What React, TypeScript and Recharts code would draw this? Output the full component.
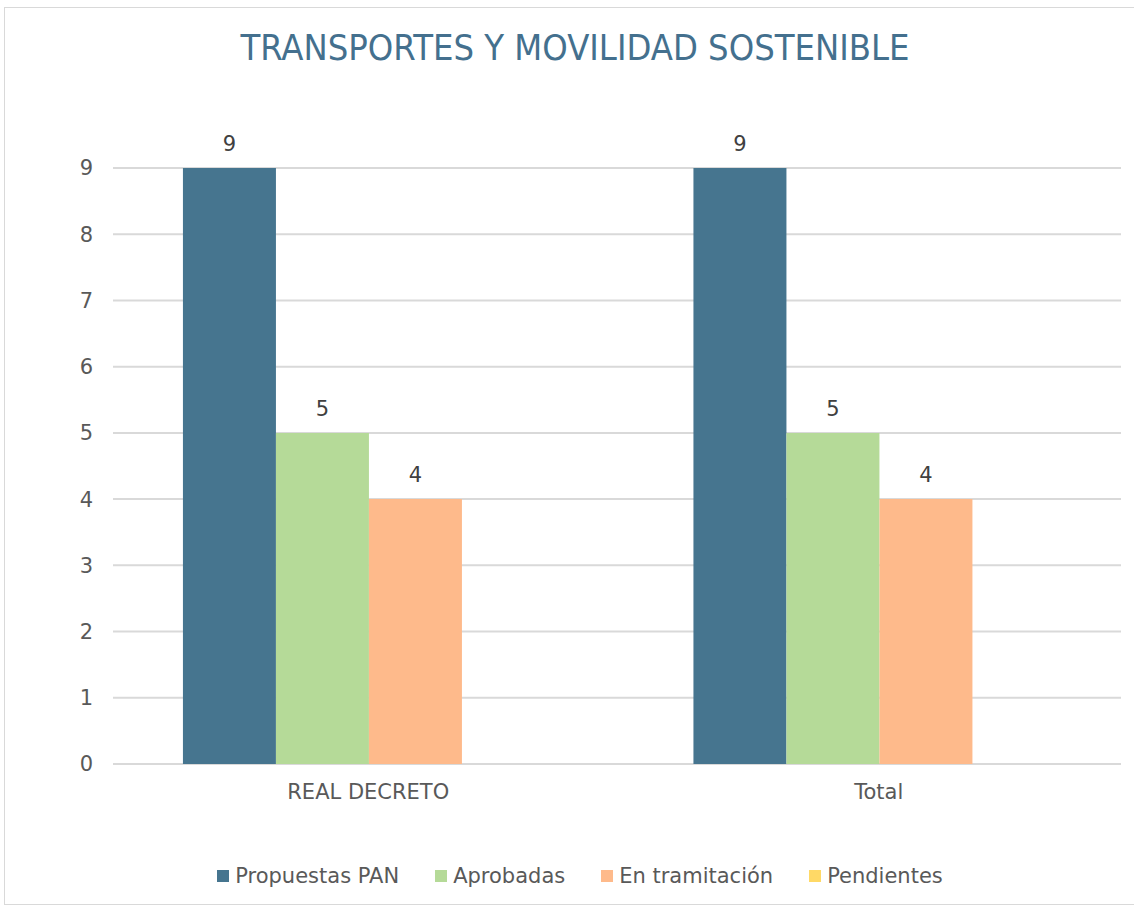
import React from 'react';
import {
  BarChart,
  Bar,
  XAxis,
  YAxis,
  CartesianGrid,
  Legend,
  LabelList,
} from 'recharts';

const categories = ['REAL DECRETO', 'Total'];
const propuestas = [9, 9];
const aprobadas = [5, 5];
const enTramitacion = [4, 4];
const pendientes = [0, 0];
const yTicks = [0, 1, 2, 3, 4, 5, 6, 7, 8, 9];

const series = [
  { key: 'propuestas', name: 'Propuestas PAN', color: '#46758F' },
  { key: 'aprobadas', name: 'Aprobadas', color: '#B5DA98' },
  { key: 'enTramitacion', name: 'En tramitación', color: '#FEBA8B' },
  { key: 'pendientes', name: 'Pendientes', color: '#FFD966' },
];

const data = categories.map((name, i) => ({
  name,
  propuestas: propuestas[i],
  aprobadas: aprobadas[i],
  enTramitacion: enTramitacion[i],
  pendientes: pendientes[i],
}));

const FONT = '"DejaVu Sans", sans-serif';

const LegendContent = () => (
  <div
    style={{
      height: 84,
      display: 'flex',
      justifyContent: 'center',
      alignItems: 'flex-end',
      paddingBottom: 20,
      paddingLeft: 26,
      boxSizing: 'border-box',
      fontFamily: FONT,
      fontSize: 21,
      color: '#595959',
    }}
  >
    {series.map((s) => (
      <span key={s.key} style={{ display: 'flex', alignItems: 'center', margin: '0 18px' }}>
        <span style={{ width: 12, height: 12, background: s.color, marginRight: 6 }} />
        {s.name}
      </span>
    ))}
  </div>
);

const App: React.FC = () => {
  return (
    <div style={{ position: 'absolute', left: 0, top: 0, width: 1134, height: 908, background: '#fff' }}>
      <div
        style={{
          position: 'absolute',
          left: 4,
          top: 7,
          width: 1140,
          height: 898,
          border: '1px solid #d9d9d9',
          boxSizing: 'border-box',
        }}
      />
      <div
        style={{
          position: 'absolute',
          left: 8,
          top: 27,
          width: 1134,
          textAlign: 'center',
          fontFamily: '"Liberation Sans Narrow", "DejaVu Sans Condensed", sans-serif',
          fontSize: 36,
          color: '#44708E',
        }}
      >
        TRANSPORTES Y MOVILIDAD SOSTENIBLE
      </div>
      <div style={{ position: 'absolute', left: 0, top: 0 }}>
        <BarChart
          width={1134}
          height={908}
          data={data}
          margin={{ top: 168, right: 0, bottom: 0, left: 0 }}
          barCategoryGap="13.7%"
          barGap={0}
        >
          <CartesianGrid vertical={false} stroke="#d9d9d9" strokeWidth={2} width={1008} />
          <XAxis
            dataKey="name"
            height={60}
            tickLine={false}
            axisLine={false}
            tick={{ fontFamily: FONT, fontSize: 21, fill: '#595959' }}
            tickMargin={14}
          />
          <YAxis
            width={113}
            domain={[0, 9]}
            ticks={yTicks}
            interval={0}
            axisLine={false}
            tickLine={false}
            tickSize={0}
            tickMargin={20}
            tick={{ fontFamily: FONT, fontSize: 21, fill: '#595959' }}
          />
          <Legend verticalAlign="bottom" content={<LegendContent />} />
          {series.map((s) => (
            <Bar key={s.key} dataKey={s.key} name={s.name} fill={s.color} isAnimationActive={false}>
              <LabelList
                dataKey={s.key}
                position="top"
                offset={17}
                formatter={(v: any) => (v ? v : '')}
                style={{ fontFamily: FONT, fontSize: 21, fill: '#404040' }}
              />
            </Bar>
          ))}
        </BarChart>
      </div>
    </div>
  );
};

export default App;
